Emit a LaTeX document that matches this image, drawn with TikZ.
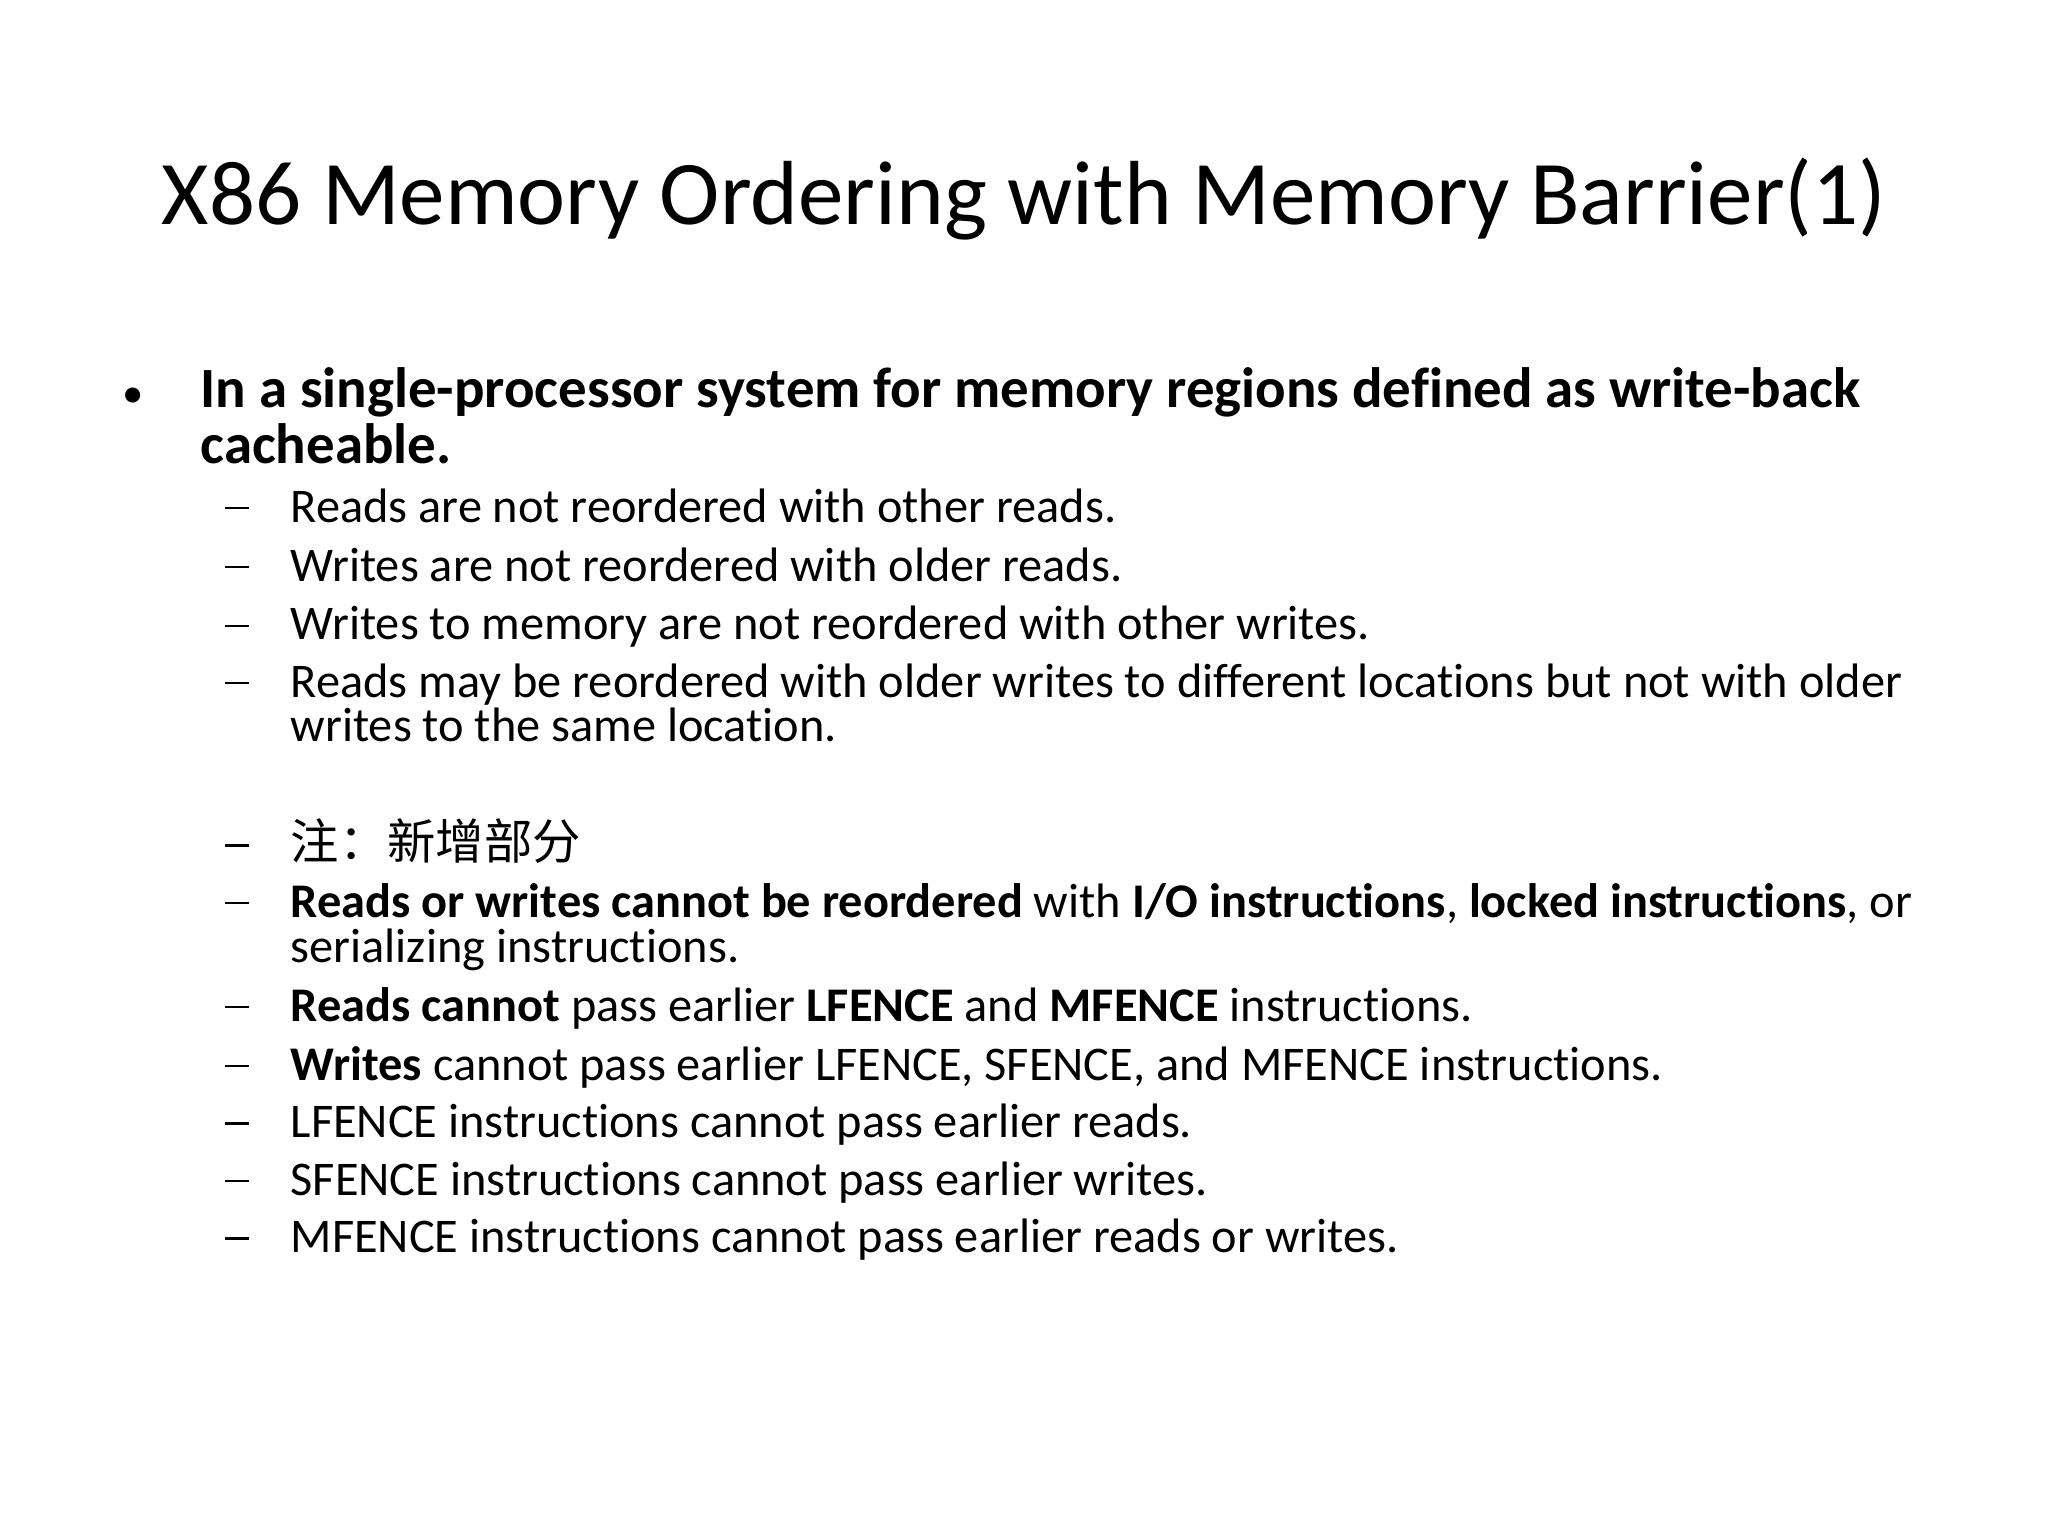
\documentclass[tikz,border=0pt]{standalone}
\usepackage{fontspec}
\setmainfont[Ligatures=NoCommon]{Carlito}
\newfontfamily\cjk{Noto Sans CJK SC}
\begin{document}
\begin{tikzpicture}[x=1pt,y=1pt,
  ln/.style={anchor=base west,inner sep=0pt,font=\fontsize{17}{20}\selectfont},
  bl/.style={anchor=base west,inner sep=0pt,font=\fontsize{20}{22}\selectfont\bfseries},
  dsh/.style={anchor=base west,inner sep=0pt}]
\useasboundingbox[fill=white] (0,0) rectangle (720,-540);
\node[anchor=base,inner sep=0pt,font=\fontsize{32}{38}\selectfont] (title) at (360,-79) {X86 Memory Ordering with Memory Barrier(1)};
\node[anchor=base west,inner sep=0pt,font=\fontsize{15}{18}\selectfont] (b) at (43,-143.3) {•};
\node[bl] (b1) at (70.3,-143.3) {In a single-processor system for memory regions defined as write-back};
\node[bl] (b2) at (70.3,-163) {cacheable.};
\foreach \n/\y in {d1/183.7,d2/204.3,d3/225,d4/245.2,d5/302.2,d6/322.4,d7/359.1,d8/379.8,d9/400,d10/420.2,d11/440.4}
  \node[dsh] (\n) at (79,-\y) {\rule[4.6pt]{8.5pt}{0.8pt}};
\node[ln] (t1) at (102,-183.7) {Reads are not reordered with other reads.};
\node[ln] (t2) at (102,-204.3) {Writes are not reordered with older reads.};
\node[ln] (t3) at (102,-225) {Writes to memory are not reordered with other writes.};
\node[ln] (t4) at (102,-245.2) {Reads may be reordered with older writes to different locations but not with older};
\node[ln] (t4b) at (102,-260.8) {writes to the same location.};
\node[ln] (t5) at (102,-302.2) {\cjk 注：新增部分};
\node[ln] (t6) at (102,-322.4) {\textbf{Reads or writes cannot be reordered} with \textbf{I/O instructions}, \textbf{locked instructions}, or};
\node[ln] (t6b) at (102,-338.4) {serializing instructions.};
\node[ln] (t7) at (102,-359.1) {\textbf{Reads cannot} pass earlier \textbf{LFENCE} and \textbf{MFENCE} instructions.};
\node[ln] (t8) at (102,-379.8) {\textbf{Writes} cannot pass earlier LFENCE, SFENCE, and MFENCE instructions.};
\node[ln] (t9) at (102,-400) {LFENCE instructions cannot pass earlier reads.};
\node[ln] (t10) at (102,-420.2) {SFENCE instructions cannot pass earlier writes.};
\node[ln] (t11) at (102,-440.4) {MFENCE instructions cannot pass earlier reads or writes.};
\end{tikzpicture}
\end{document}
